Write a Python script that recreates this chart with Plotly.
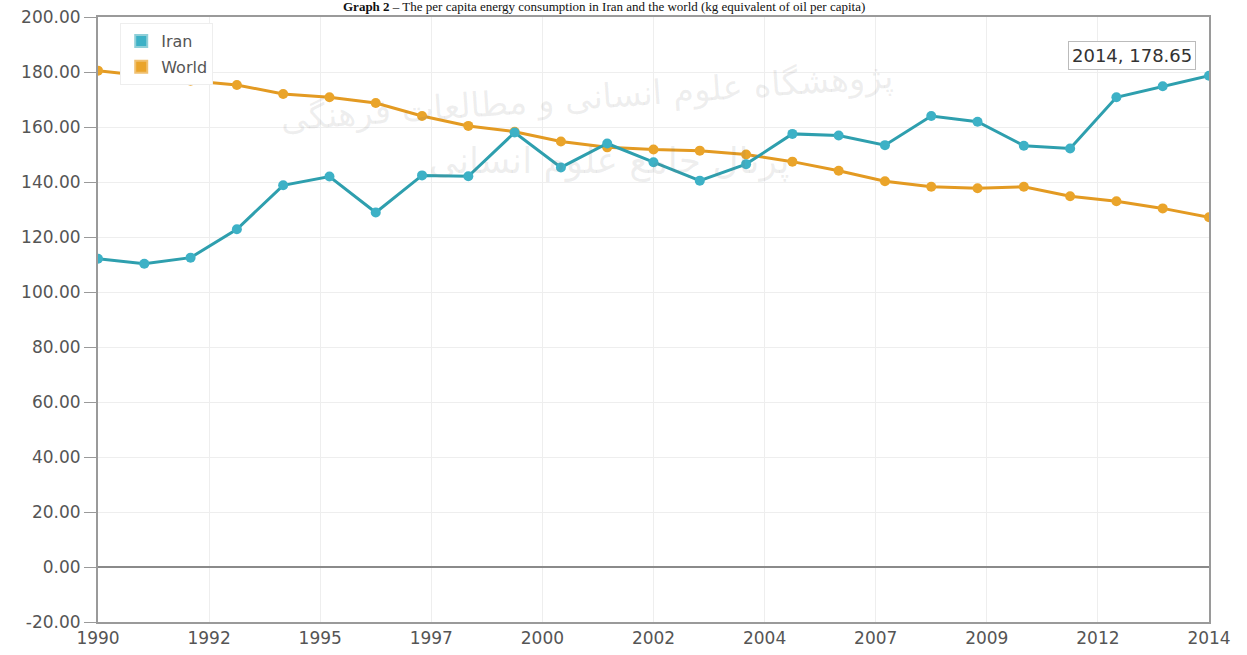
import plotly.graph_objects as go

years = list(range(1990, 2015))
iran = [112.1, 110.3, 112.5, 122.8, 138.8, 142.0, 128.9, 142.4, 142.1, 158.0,
        145.3, 154.0, 147.2, 140.5, 146.5, 157.5, 156.9, 153.4, 164.0, 161.9,
        153.2, 152.2, 170.8, 174.8, 178.65]
world = [180.5, 178.6, 176.8, 175.3, 172.0, 170.8, 168.7, 164.0, 160.4, 158.3,
         154.7, 152.6, 151.8, 151.4, 150.0, 147.4, 144.1, 140.3, 138.3, 137.7,
         138.3, 134.8, 133.0, 130.4, 127.2]
x_tick_labels = ["1990", "1992", "1995", "1997", "2000", "2002", "2004",
                 "2007", "2009", "2012", "2014"]
y_ticks = [-20, 0, 20, 40, 60, 80, 100, 120, 140, 160, 180, 200]
title_text = ("<b>Graph 2</b> – The per capita energy consumption in Iran and the world "
              "(kg equivalent of oil per capita)")
tooltip_text = "2014, 178.65"

IRAN_C = "#3DB1C6"
IRAN_L = "#2E9FAE"
WORLD_C = "#EAA42A"
WORLD_L = "#E39A22"

n = len(x_tick_labels) - 1
x0, x1 = years[0], years[-1]
tickvals = [x0 + (x1 - x0) * i / n for i in range(n + 1)]

fig = go.Figure()
fig.add_trace(go.Scatter(x=years, y=world, mode="lines+markers", name="World",
                         line=dict(color=WORLD_L, width=3),
                         marker=dict(color=WORLD_C, size=10), showlegend=False))
fig.add_trace(go.Scatter(x=years, y=iran, mode="lines+markers", name="Iran",
                         line=dict(color=IRAN_L, width=3),
                         marker=dict(color=IRAN_C, size=10), showlegend=False))
# legend swatches
fig.add_trace(go.Scatter(x=[None], y=[None], mode="markers", name="Iran",
                         marker=dict(symbol="square", size=15, color=IRAN_C,
                                     line=dict(color="#8fcfd8", width=1)),
                         legendgroup="a"))
fig.add_trace(go.Scatter(x=[None], y=[None], mode="markers", name="World",
                         marker=dict(symbol="square", size=15, color=WORLD_C,
                                     line=dict(color="#f0c070", width=1)),
                         legendgroup="b"))

fig.update_layout(
    width=1247, height=655,
    margin=dict(l=98, r=38, t=17, b=33),
    paper_bgcolor="white", plot_bgcolor="white",
    font=dict(family="DejaVu Sans", color="#555"),
    legend=dict(x=0.02, y=0.99, xanchor="left", yanchor="top",
                bgcolor="white", bordercolor="#eeeeee", borderwidth=1,
                font=dict(size=16, color="#555"), tracegroupgap=2,
                itemsizing="constant"),
    xaxis=dict(range=[x0, x1], tickvals=tickvals, ticktext=x_tick_labels,
               automargin=False,
               showgrid=True, gridcolor="#eeeeee", gridwidth=1,
               showline=True, linecolor="#9a9a9a", linewidth=2, mirror=True,
               ticks="", tickfont=dict(size=17, color="#555"), zeroline=False),
    yaxis=dict(range=[-20, 200], tickvals=y_ticks,
               ticktext=[f"{v:.2f}" for v in y_ticks], automargin=False,
               showgrid=True, gridcolor="#eeeeee", gridwidth=1,
               showline=True, linecolor="#9a9a9a", linewidth=2, mirror=True,
               ticks="outside", ticklen=12, tickcolor="#9a9a9a", tickwidth=1,
               tickfont=dict(size=17, color="#555"),
               zeroline=True, zerolinecolor="#8a8a8a", zerolinewidth=2),
)

# watermark
fig.add_annotation(xref="paper", yref="paper", x=0.44, y=0.94,
                   text="پژوهشگاه علوم انسانی و مطالعات فرهنگی", showarrow=False,
                   font=dict(family="DejaVu Sans", size=34, color="rgba(120,120,120,0.13)"),
                   textangle=-4)
fig.add_annotation(xref="paper", yref="paper", x=0.46, y=0.80,
                   text="پرتال جامع علوم انسانی", showarrow=False,
                   font=dict(family="DejaVu Sans", size=36, color="rgba(120,120,120,0.13)"))

# title (kept fully visible above the plot area)
fig.add_annotation(xref="paper", yref="paper", x=0.455, y=1.0, yanchor="bottom",
                   yshift=1, text=title_text, showarrow=False,
                   font=dict(family="Liberation Serif", size=13, color="#111"))

# tooltip box
fig.add_annotation(x=years[-1], y=iran[-1], xref="x", yref="y",
                   text=tooltip_text, showarrow=False,
                   xanchor="right", yanchor="bottom", xshift=-13, yshift=6,
                   font=dict(family="DejaVu Sans", size=18, color="#333"),
                   bgcolor="white", bordercolor="#bbbbbb", borderwidth=1, borderpad=3)

fig.write_html("out.html", config={"displayModeBar": False},
               post_script="document.body.style.margin='0';document.body.style.padding='0';")
